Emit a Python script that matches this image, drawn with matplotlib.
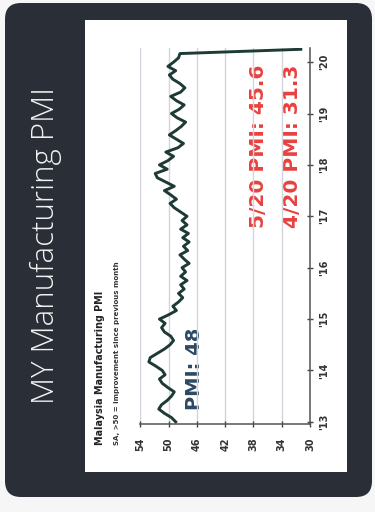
import matplotlib.pyplot as plt
import numpy as np
from matplotlib.patches import FancyBboxPatch, Rectangle

# Malaysia manufacturing PMI, monthly, Jan 2013 - Apr 2020
pmi_2013 = [49.0, 49.6, 50.6, 51.4, 51.0, 50.2, 49.6, 49.2, 50.1, 50.9, 51.3, 50.5]
pmi_2014 = [50.9, 51.8, 52.8, 52.6, 51.6, 50.6, 49.8, 49.3, 49.7, 50.6, 51.0, 50.5]
pmi_2015 = [51.3, 50.0, 48.9, 49.4, 48.6, 48.0, 48.6, 47.8, 48.3, 47.4, 48.3, 47.6]
pmi_2016 = [48.1, 47.1, 47.8, 48.4, 47.3, 47.9, 47.1, 48.0, 47.2, 48.3, 47.4, 48.1]
pmi_2017 = [47.4, 48.3, 49.2, 49.8, 48.9, 49.7, 50.6, 49.2, 50.4, 51.6, 51.9, 50.2]
pmi_2018 = [51.3, 50.1, 49.3, 50.4, 48.7, 47.9, 48.9, 49.9, 49.0, 48.2, 47.6, 48.8]
pmi_2019 = [49.6, 48.5, 47.8, 48.9, 49.7, 48.3, 47.7, 48.4, 49.4, 49.9, 49.0, 50.1]
pmi_2020 = [49.3, 48.6, 48.4, 31.3]

year_ticks = [2013, 2014, 2015, 2016, 2017, 2018, 2019, 2020]
year_labels = ["'13", "'14", "'15", "'16", "'17", "'18", "'19", "'20"]
pmi_ticks = [30, 34, 38, 42, 46, 50, 54]

pmi = np.array(pmi_2013 + pmi_2014 + pmi_2015 + pmi_2016 + pmi_2017 + pmi_2018 + pmi_2019 + pmi_2020)
t = 2013 + np.arange(len(pmi)) / 12

fig = plt.figure(figsize=(3.75, 5.12), dpi=100)
fig.patch.set_facecolor("#f6f6f6")

# slide background drawn in pixel space
bg = fig.add_axes([0, 0, 1, 1])
bg.set_xlim(0, 375)
bg.set_ylim(512, 0)
bg.axis("off")
bg.add_patch(FancyBboxPatch((5, 3), 367, 494, boxstyle="round,pad=0,rounding_size=16",
                            facecolor="#2a2f37", edgecolor="none"))
bg.add_patch(Rectangle((85, 20), 262, 452, facecolor="white", edgecolor="none"))
bg.text(46, 246, "MY Manufacturing PMI", rotation=90, ha="center", va="center",
        color="#f2f2f2", fontsize=22.5, family="Open Sans", fontweight=300)
bg.text(100, 445, "Malaysia Manufacturing PMI", rotation=90, ha="center", va="bottom",
        color="#222222", fontsize=6.9, fontweight="bold")
bg.text(117, 445, "SA, >50 = improvement since previous month", rotation=90, ha="center",
        va="bottom", color="#333333", fontsize=5, fontweight="bold")

# the chart itself, turned on its side: PMI runs left to right, time runs upward
ax = fig.add_axes([140 / 375, 1 - 424 / 512, 170 / 375, 376 / 512])
ax.set_facecolor("none")
ax.plot(pmi, t, color="#1d3a35", linewidth=2.1, solid_joinstyle="round")

ax.set_xlim(54.05, 30)
ax.set_ylim(2013 - 0.5 / 12, 2013 + 87.3 / 12)
ax.set_xticks(pmi_ticks)
ax.set_xticklabels([str(v) for v in pmi_ticks], rotation=90, fontsize=7,
                   fontweight="bold", color="#333333")
ax.set_yticks(year_ticks)
ax.set_yticklabels(year_labels, rotation=90, fontsize=7, fontweight="bold",
                   color="#333333", va="center")
ax.yaxis.tick_right()
ax.tick_params(axis="x", direction="inout", length=5, width=1, color="#444444", pad=7)
ax.tick_params(axis="y", direction="inout", length=5, width=1, color="#444444", pad=4)
ax.grid(axis="x", color="#d4d4dc", linewidth=1)
ax.set_axisbelow(True)
for side in ["top", "left"]:
    ax.spines[side].set_visible(False)
for side in ["bottom", "right"]:
    ax.spines[side].set_color("#555555")
    ax.spines[side].set_linewidth(1.1)

bg.text(195, 410, "PMI: 48", rotation=90, ha="center", va="bottom", color="#2c4863",
        fontsize=14, fontweight="bold")
bg.text(258, 228, "5/20 PMI: 45.6", rotation=90, ha="center", va="bottom", color="#e8413f",
        fontsize=14.5, fontweight="bold")
bg.text(293, 228, "4/20 PMI: 31.3", rotation=90, ha="center", va="bottom", color="#e8413f",
        fontsize=14.5, fontweight="bold")

plt.savefig("out.png", dpi=100)
